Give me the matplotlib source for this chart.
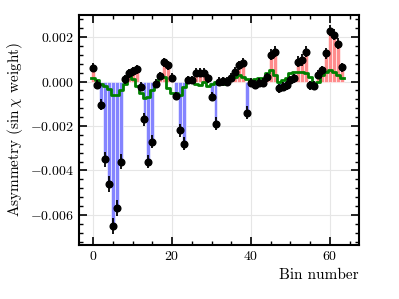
import matplotlib
matplotlib.use('Agg')
import matplotlib.pyplot as plt
from matplotlib.ticker import AutoMinorLocator, MultipleLocator, FuncFormatter
import numpy as np

plt.rcParams['font.family'] = 'serif'
plt.rcParams['font.serif'] = ['cmr10']
plt.rcParams['mathtext.fontset'] = 'cm'
plt.rcParams['axes.formatter.use_mathtext'] = True

# asymmetry per bin
bins = np.arange(64)
asym = [0.00062, -0.00015, -0.00105, -0.0035, -0.0046, -0.0065, -0.0057, -0.0036, 0.0001, 0.00037,
        0.00047, 0.00055, -0.00023, -0.0017, -0.0036, -0.0027, -0.0001, 0.00025, 0.00086, 0.00074,
        0.00017, -0.00065, -0.0022, -0.0028, 0.00007, 0.00007, 0.0004, 0.0004, 0.0004, 0.00014,
        -0.00068, -0.0019, 0.0, 0.00002, 0.0, 0.00017, 0.00045, 0.00074, 0.00085, -0.0014,
        -0.00005, -0.00014, -0.00006, -0.00005, 0.0002, 0.0012, 0.00135, -0.0003, -0.00023, -0.00016,
        0.00007, 0.00014, 0.0009, 0.00097, 0.00134, -0.00016, -0.00018, 0.0003, 0.0005, 0.00127,
        0.0023, 0.0021, 0.0017, 0.00064]
err = [0.0002, 0.0002, 0.00025, 0.00035, 0.00035, 0.00035, 0.00035, 0.00035, 0.0002, 0.0002,
       0.0002, 0.0002, 0.0002, 0.0003, 0.0003, 0.0003, 0.0002, 0.0002, 0.0002, 0.0002,
       0.0002, 0.0002, 0.0003, 0.0003, 0.0002, 0.0002, 0.0002, 0.0002, 0.0002, 0.0002,
       0.0002, 0.0003, 0.0002, 0.0002, 0.0002, 0.0002, 0.0002, 0.0002, 0.0002, 0.0003,
       0.0002, 0.0002, 0.0002, 0.0002, 0.0002, 0.00025, 0.00025, 0.0002, 0.0002, 0.0002,
       0.0002, 0.0002, 0.00025, 0.00025, 0.00025, 0.0002, 0.0002, 0.0002, 0.0002, 0.00025,
       0.00025, 0.00025, 0.00025, 0.0002]
# model (green step)
model = [0.00014, 0.00005, -0.0001, -0.0002, -0.00035, -0.0006, -0.0006, -0.0004, -0.0001, 0.00025,
         0.0001, -0.0002, -0.0005, -0.00075, -0.0007, -0.0004, -0.0001, 0.0002, 0.0002, -0.0003,
         -0.0005, -0.0005, -0.0006, -0.00025, 0.0001, 0.0001, -0.0001, -0.00015, 0.0, -0.0002,
         -0.0001, 0.0, -0.0001, -0.0001, 0.0, 0.0001, 0.0002, 0.0003, 0.0002, 0.0001,
         0.0, 0.0001, 0.00014, 0.00014, 0.0004, 0.0005, 0.0003, 0.0, 0.00007, 0.00014,
         0.0004, 0.00044, 0.00044, 0.00044, 0.0004, 0.0002, -0.0001, 0.0, 0.0003, 0.00044,
         0.0005, 0.00044, 0.0003, 0.00014]

asym = np.array(asym)
colors = ['#ff8c8c' if a >= 0 else '#8484ff' for a in asym]

fig = plt.figure(figsize=(3.99, 2.99), dpi=100)
ax = fig.add_axes([0.198, 0.181, 0.702, 0.769])

ax.grid(True, color='#e6e6e6', linewidth=0.8, zorder=0)
ax.bar(bins, asym, width=1.0, color=colors, edgecolor='white', linewidth=0.4, zorder=2)
ax.errorbar(bins, asym, yerr=err, fmt='o', color='black', markersize=4.8,
            elinewidth=1.3, capsize=0, zorder=4)
ax.step(np.append(bins, 64) - 0.5, np.append(model, model[-1]), where='post',
        color='green', linewidth=2.0, zorder=3)

ax.set_xlim(-3.6, 67.4)
ax.set_ylim(-0.00735, 0.003)
ax.xaxis.set_major_locator(MultipleLocator(20))
ax.xaxis.set_minor_locator(AutoMinorLocator(4))
ax.yaxis.set_major_locator(MultipleLocator(0.002))
ax.yaxis.set_minor_locator(AutoMinorLocator(5))
ax.tick_params(which='both', direction='in', top=True, right=True, labelsize=10)
ax.tick_params(which='major', length=6, width=1.2)
ax.tick_params(which='minor', length=3, width=1.0)
for s in ax.spines.values():
    s.set_linewidth(1.5)
ax.yaxis.set_major_formatter(FuncFormatter(lambda v, p: '$%.3f$' % (0.0 if abs(v) < 1e-12 else v)))

ax.set_xlabel('Bin number', fontsize=11, loc='right')
ax.set_ylabel(r'Asymmetry ($\sin\chi$ weight)', fontsize=11)

plt.savefig('out.png', dpi=100)
